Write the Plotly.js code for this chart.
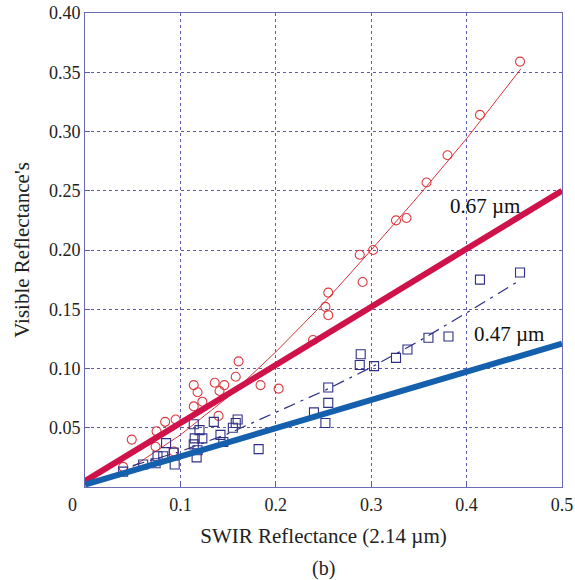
<!DOCTYPE html>
<html>
<head>
<meta charset="utf-8">
<script src="https://cdn.plot.ly/plotly-3.0.1.min.js"></script>
<style>html,body{margin:0;padding:0;background:#fff;}</style>
</head>
<body>
<div id="chart" style="width:575px;height:580px;"></div>
<script>
// Red circles (0.67 µm visible vs SWIR)
const redX = [0.040,0.049,0.075,0.084,0.095,0.074,0.093,0.114,0.118,0.123,0.114,0.136,0.146,0.141,0.158,0.161,0.140,0.184,0.203,0.239,0.255,0.252,0.255,0.288,0.302,0.291,0.326,0.337,0.358,0.380,0.414,0.456];
const redY = [0.017,0.040,0.047,0.055,0.057,0.034,0.030,0.086,0.080,0.072,0.068,0.088,0.086,0.081,0.093,0.106,0.060,0.086,0.083,0.124,0.164,0.152,0.145,0.196,0.200,0.173,0.225,0.227,0.257,0.280,0.314,0.359];
// Blue squares (0.47 µm visible vs SWIR)
const blueX = [0.040,0.061,0.074,0.076,0.082,0.085,0.094,0.093,0.114,0.115,0.123,0.118,0.117,0.135,0.142,0.155,0.160,0.145,0.114,0.120,0.182,0.158,0.240,0.252,0.255,0.255,0.289,0.288,0.303,0.326,0.338,0.360,0.381,0.414,0.456];
const blueY = [0.013,0.019,0.020,0.026,0.026,0.037,0.019,0.029,0.053,0.041,0.041,0.031,0.025,0.055,0.044,0.050,0.057,0.038,0.036,0.048,0.032,0.054,0.063,0.054,0.071,0.084,0.112,0.103,0.102,0.109,0.116,0.126,0.127,0.175,0.181];
// Fitted curves
const redFitX = [0.05,0.10,0.15,0.20,0.25,0.30,0.35,0.40,0.457];
const redFitY = [0.017,0.044,0.076,0.114,0.155,0.200,0.246,0.294,0.353];
const blueFitX = [0.05,0.10,0.15,0.20,0.25,0.30,0.35,0.40,0.457];
const blueFitY = [0.018,0.030,0.045,0.063,0.081,0.101,0.123,0.147,0.175];
// Thick ratio lines
const redLineX = [0, 0.5];
const redLineY = [0.005, 0.25];
const blueLineX = [0, 0.5];
const blueLineY = [0.002, 0.121];
// Ticks
const xTickVals = [0.1,0.2,0.3,0.4,0.5];
const xTickText = ["0.1","0.2","0.3","0.4","0.5"];
const yTickVals = [0.05,0.10,0.15,0.20,0.25,0.30,0.35,0.40];
const yTickText = ["0.05","0.10","0.15","0.20","0.25","0.30","0.35","0.40"];

const serif = "Liberation Serif, Times New Roman, serif";
const gridC = "#5b5bab";
const txt = "#222";

const traces = [
  {x: redFitX, y: redFitY, mode: "lines", line: {color: "#d9343c", width: 1}, hoverinfo: "skip"},
  {x: blueFitX, y: blueFitY, mode: "lines", line: {color: "#2b2f85", width: 1.2, dash: "12px,6px,3px,6px"}, hoverinfo: "skip"},
  {x: redX, y: redY, mode: "markers", marker: {symbol: "circle-open", size: 9, color: "#dc3a40", line: {width: 1.1}}},
  {x: blueX, y: blueY, mode: "markers", marker: {symbol: "square-open", size: 9, color: "#2e2f86", line: {width: 1.1}}},
  {x: redLineX, y: redLineY, mode: "lines", line: {color: "#d0124a", width: 6}},
  {x: blueLineX, y: blueLineY, mode: "lines", line: {color: "#1560ad", width: 6}}
];

const layout = {
  width: 575, height: 580,
  margin: {l: 85, r: 13, t: 13, b: 93},
  showlegend: false,
  paper_bgcolor: "#fff", plot_bgcolor: "#fff",
  font: {family: serif, size: 18, color: txt},
  xaxis: {
    range: [0, 0.5], tickvals: xTickVals, ticktext: xTickText,
    showgrid: true, gridcolor: gridC, griddash: "dot", gridwidth: 1,
    showline: true, mirror: true, linecolor: "#6a6ab5", linewidth: 1,
    ticks: "inside", ticklen: 5, tickcolor: gridC, ticklabelstandoff: 1,
    zeroline: false, tickfont: {family: serif, size: 18, color: txt},
    title: {text: "SWIR Reflectance (2.14 µm)", font: {family: serif, size: 21, color: txt}, standoff: 14}
  },
  yaxis: {
    range: [0, 0.4], tickvals: yTickVals, ticktext: yTickText,
    showgrid: true, gridcolor: gridC, griddash: "dot", gridwidth: 1,
    showline: true, mirror: true, linecolor: "#6a6ab5", linewidth: 1,
    ticks: "inside", ticklen: 5, tickcolor: gridC,
    zeroline: false, tickfont: {family: serif, size: 18, color: txt},
    title: {text: "Visible Reflectance's", font: {family: serif, size: 21, color: txt}, standoff: 13}
  },
  annotations: [
    {x: 0.419, y: 0.237, xref: "x", yref: "y", text: "0.67 µm", showarrow: false, font: {family: serif, size: 21, color: "#111"}},
    {x: 0.444, y: 0.129, xref: "x", yref: "y", text: "0.47 µm", showarrow: false, font: {family: serif, size: 21, color: "#111"}},
    {x: 0, y: 0, xref: "paper", yref: "paper", xanchor: "center", yanchor: "middle", xshift: -13, yshift: -18, text: "0", showarrow: false, font: {family: serif, size: 18, color: txt}},
    {x: 0.5, y: 0, xref: "paper", yref: "paper", xanchor: "center", yanchor: "middle", yshift: -81, text: "(b)", showarrow: false, font: {family: serif, size: 20, color: txt}}
  ]
};

Plotly.newPlot("chart", traces, layout, {displayModeBar: false, staticPlot: true});
</script>
</body>
</html>
